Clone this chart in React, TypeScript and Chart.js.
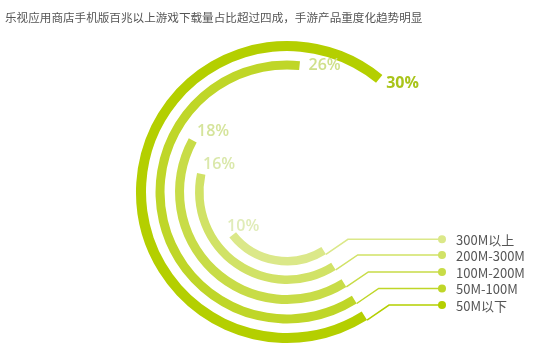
import React, { useEffect, useRef } from 'react';
import { Chart, registerables } from 'chart.js';

Chart.register(...registerables);

const TITLE = '乐视应用商店手机版百兆以上游戏下载量占比超过四成，手游产品重度化趋势明显';

// outermost ring first (Chart.js draws the first dataset outermost)
const categories = ['50M以下', '50M-100M', '100M-200M', '200M-300M', '300M以上'];
const shares = [30, 26, 18, 16, 10];
const shareLabels = shares.map((v) => `${v}%`);

// share (percent) that a full 360° turn stands for in this infographic
const FULL_TURN_SHARE = 43;

const ringColors = ['#b4cf00', '#bfd628', '#c8dc47', '#d1e266', '#dbe889'];
const labelColors = ['#a9c41a', '#cfe08a', '#d5e49b', '#dae8aa', '#e0ecb8'];
const ringWeights = [10, 9, 9, 8.5, 8.5];
const gapWeights = [9.5, 10.5, 11, 10];

const START_ROTATION = 148; // degrees clockwise from 12 o'clock
const LEGEND_DOT_X = 442;
const LEGEND_TEXT_X = 456;

const annotationPlugin = {
  id: 'ringAnnotations',
  afterDatasetsDraw(chart: any) {
    const ctx = chart.ctx as CanvasRenderingContext2D;
    ctx.save();
    chart.data.datasets.forEach((ds: any, di: number) => {
      if (ds.ringIndex === undefined) return;
      const i = ds.ringIndex as number;
      const arc = chart.getDatasetMeta(di).data[0];
      const { x, y, startAngle, endAngle, innerRadius, outerRadius } = arc.getProps(
        ['x', 'y', 'startAngle', 'endAngle', 'innerRadius', 'outerRadius'],
        true
      );
      // connector from ring head to legend
      const sx = x + outerRadius * Math.cos(startAngle);
      const sy = y + outerRadius * Math.sin(startAngle);
      const ly = sy - 15;
      ctx.strokeStyle = ringColors[i];
      ctx.lineWidth = 1.5;
      ctx.beginPath();
      ctx.moveTo(sx, sy);
      ctx.lineTo(sx + 22, ly);
      ctx.lineTo(LEGEND_DOT_X, ly);
      ctx.stroke();
      ctx.fillStyle = ringColors[i];
      ctx.beginPath();
      ctx.arc(LEGEND_DOT_X, ly, 4, 0, Math.PI * 2);
      ctx.fill();
      ctx.fillStyle = '#555555';
      ctx.font = '13px "Noto Sans CJK SC", sans-serif';
      ctx.textAlign = 'left';
      ctx.textBaseline = 'middle';
      ctx.fillText(categories[i], LEGEND_TEXT_X, ly + 1);

      // percent label at the tail of each ring
      const rm = (innerRadius + outerRadius) / 2;
      const ex = x + rm * Math.cos(endAngle);
      const ey = y + rm * Math.sin(endAngle);
      const tx = -Math.sin(endAngle);
      const ty = Math.cos(endAngle);
      ctx.font = `${i === 0 ? 700 : 600} 16px "Open Sans", sans-serif`;
      ctx.fillStyle = labelColors[i];
      ctx.fillText(shareLabels[i], ex + tx * 9, ey + ty * 9 - 1);
    });
    ctx.restore();
  },
};

export default function App() {
  const canvasRef = useRef<HTMLCanvasElement | null>(null);

  useEffect(() => {
    const canvas = canvasRef.current;
    if (!canvas) return;
    const datasets: any[] = [];
    shares.forEach((v, i) => {
      datasets.push({
        label: categories[i],
        ringIndex: i,
        data: [v, FULL_TURN_SHARE - v],
        backgroundColor: [ringColors[i], 'rgba(0,0,0,0)'],
        borderWidth: 0,
        weight: ringWeights[i],
        rotation: START_ROTATION,
        circumference: 360,
        hoverOffset: 0,
        offset: 0,
      });
      if (i < shares.length - 1) {
        datasets.push({
          label: '',
          data: [1],
          backgroundColor: ['rgba(0,0,0,0)'],
          borderWidth: 0,
          weight: gapWeights[i],
          rotation: START_ROTATION,
          circumference: 360,
          hoverOffset: 0,
          offset: 0,
        });
      }
    });

    const chart = new Chart(canvas, {
      type: 'doughnut',
      data: { labels: ['share', 'rest'], datasets },
      options: {
        responsive: false,
        animation: false,
        events: [],
        cutout: '43%',
        layout: { padding: { left: 136, right: 116, top: 41, bottom: 13 } },
        plugins: {
          legend: { display: false },
          title: { display: false },
          tooltip: { enabled: false },
        },
      },
      plugins: [annotationPlugin],
    } as any);
    return () => chart.destroy();
  }, []);

  return (
    <div style={{ position: 'absolute', left: 0, top: 0, width: 554, height: 356, background: '#fff', overflow: 'hidden' }}>
      <canvas ref={canvasRef} width={554} height={356} style={{ display: 'block', width: 554, height: 356 }} />
      <div
        style={{
          position: 'absolute',
          left: 5,
          top: 11,
          fontSize: '11.6px',
          lineHeight: '12px',
          fontFamily: '"Noto Sans CJK SC", sans-serif',
          color: '#555555',
          whiteSpace: 'nowrap',
        }}
      >
        {TITLE}
      </div>
    </div>
  );
}
